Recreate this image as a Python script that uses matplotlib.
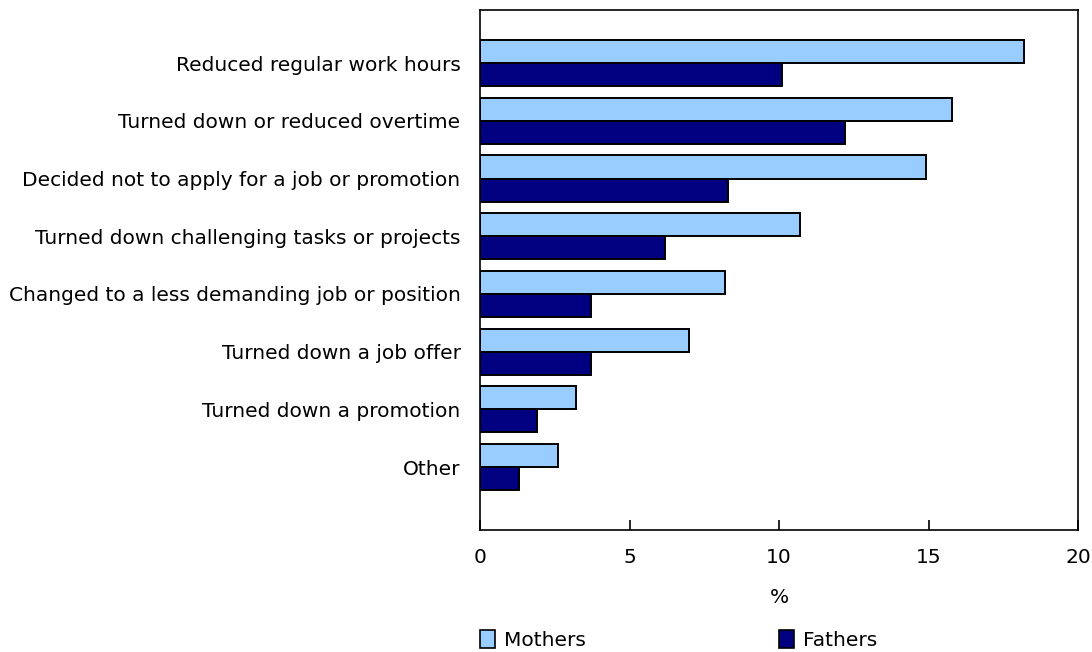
import numpy as np
import matplotlib
matplotlib.use("Agg")
import matplotlib.pyplot as plt
from matplotlib.patches import Patch

categories = [
    "Reduced regular work hours",
    "Turned down or reduced overtime",
    "Decided not to apply for a job or promotion",
    "Turned down challenging tasks or projects",
    "Changed to a less demanding job or position",
    "Turned down a job offer",
    "Turned down a promotion",
    "Other",
]
mothers = [18.2, 15.8, 14.9, 10.7, 8.2, 7.0, 3.2, 2.6]
fathers = [10.1, 12.2, 8.3, 6.2, 3.7, 3.7, 1.9, 1.3]
xticks = [0, 5, 10, 15, 20]

plt.rcParams["font.family"] = ["DejaVu Sans"]
plt.rcParams["font.size"] = 14.5

fig = plt.figure(figsize=(10.92, 6.52), dpi=100)
ax = fig.add_axes([480 / 1092, 1 - 530 / 652, 598 / 1092, 520 / 652])

y = np.arange(len(categories))
h = 0.4
ax.barh(y - h / 2, mothers, height=h, color="#99ccff", edgecolor="black", linewidth=1.4)
ax.barh(y + h / 2, fathers, height=h, color="#000080", edgecolor="black", linewidth=1.4)

ax.set_xlim(0, 20)
ax.set_ylim(8.09, -0.92)
ax.set_yticks(y)
ax.set_yticklabels(categories)
ax.tick_params(axis="y", length=0, pad=14)
ax.set_xticks(xticks)
ax.tick_params(axis="x", direction="in", length=7, width=1.2, pad=13)
for s in ax.spines.values():
    s.set_linewidth(1.2)
ax.set_xlabel("%", labelpad=15)

# legend: two separate entries placed under the axis
for name, col, x0 in [("Mothers", "#99ccff", 480), ("Fathers", "#000080", 779)]:
    hnd = Patch(facecolor=col, edgecolor="black", linewidth=1.2)
    fig.legend([hnd], [name], loc="lower left", bbox_to_anchor=(x0 / 1092, 2 / 652),
               frameon=False, borderpad=0, borderaxespad=0,
               handlelength=0.75, handleheight=1.0, handletextpad=0.45)

fig.savefig("out.png", dpi=100)
